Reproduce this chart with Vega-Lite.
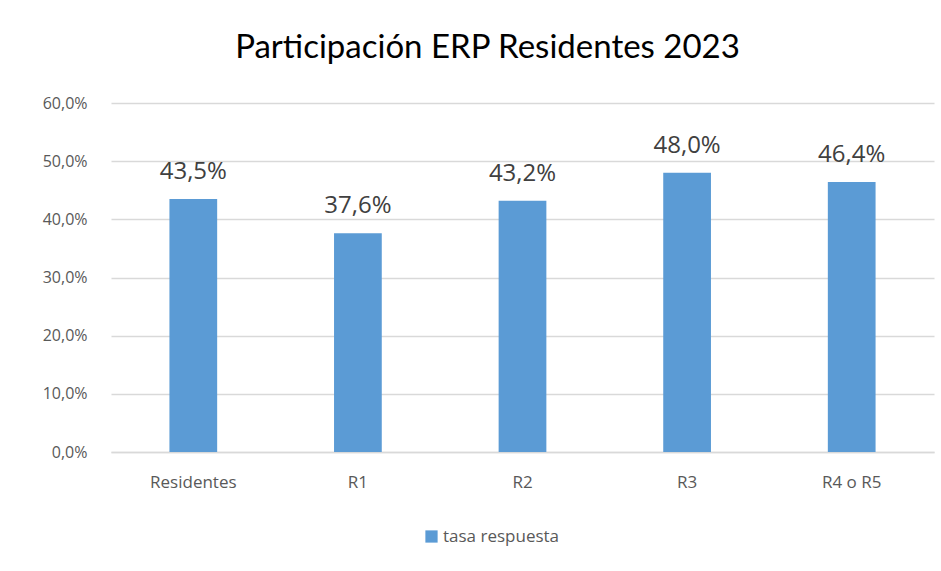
{
  "$schema": "https://vega.github.io/schema/vega-lite/v6.json",
  "autosize": {"type": "none"},
  "width": 823,
  "height": 349,
  "padding": {"left": 111, "top": 103, "right": 7, "bottom": 119},
  "background": "white",
  "title": {
    "text": "Participación ERP Residentes 2023",
    "font": "Lato",
    "fontSize": 33,
    "fontWeight": "normal",
    "color": "#000000",
    "anchor": "middle",
    "dx": -35,
    "offset": 30
  },
  "config": {
    "locale": {"number": {"decimal": ",", "thousands": ".", "grouping": [3], "currency": ["", " €"]}},
    "view": {"stroke": null},
    "font": "Lato"
  },
  "data": {
    "values": [
      {"grupo": "Residentes", "tasa": 0.435, "serie": "tasa respuesta"},
      {"grupo": "R1", "tasa": 0.376, "serie": "tasa respuesta"},
      {"grupo": "R2", "tasa": 0.432, "serie": "tasa respuesta"},
      {"grupo": "R3", "tasa": 0.48, "serie": "tasa respuesta"},
      {"grupo": "R4 o R5", "tasa": 0.464, "serie": "tasa respuesta"}
    ]
  },
  "encoding": {
    "x": {
      "field": "grupo",
      "type": "nominal",
      "sort": null,
      "scale": {"paddingInner": 0.71, "paddingOuter": 0.355},
      "axis": {
        "title": null,
        "labelAngle": 0,
        "labelFont": "Open Sans",
        "labelFontSize": 17,
        "labelColor": "#595959",
        "labelPadding": 22,
        "ticks": false,
        "domain": true,
        "domainColor": "#D9D9D9",
        "domainWidth": 1.5
      }
    },
    "y": {
      "field": "tasa",
      "type": "quantitative",
      "scale": {"domain": [0, 0.6]},
      "axis": {
        "title": null,
        "format": ".1%",
        "values": [0, 0.1, 0.2, 0.3, 0.4, 0.5, 0.6],
        "labelFont": "Open Sans",
        "labelFontSize": 16,
        "labelColor": "#595959",
        "labelPadding": 24,
        "ticks": false,
        "domain": false,
        "grid": true,
        "gridColor": "#D9D9D9",
        "gridWidth": 1.5
      }
    }
  },
  "layer": [
    {
      "mark": {"type": "bar", "color": "#5B9BD5"},
      "encoding": {
        "color": {
          "field": "serie",
          "type": "nominal",
          "scale": {"range": ["#5B9BD5"]},
          "legend": {
            "title": null,
            "orient": "none",
            "legendX": 312,
            "legendY": 425,
            "symbolType": "square",
            "symbolSize": 150,
            "symbolStrokeWidth": 0,
            "labelFont": "Open Sans",
            "labelFontSize": 17,
            "labelColor": "#595959",
            "labelOffset": 3
          }
        }
      }
    },
    {
      "mark": {"type": "text", "baseline": "bottom", "dy": -15, "fontSize": 24, "color": "#404040", "font": "Open Sans"},
      "encoding": {
        "text": {"field": "tasa", "type": "quantitative", "format": ".1%"}
      }
    }
  ]
}
